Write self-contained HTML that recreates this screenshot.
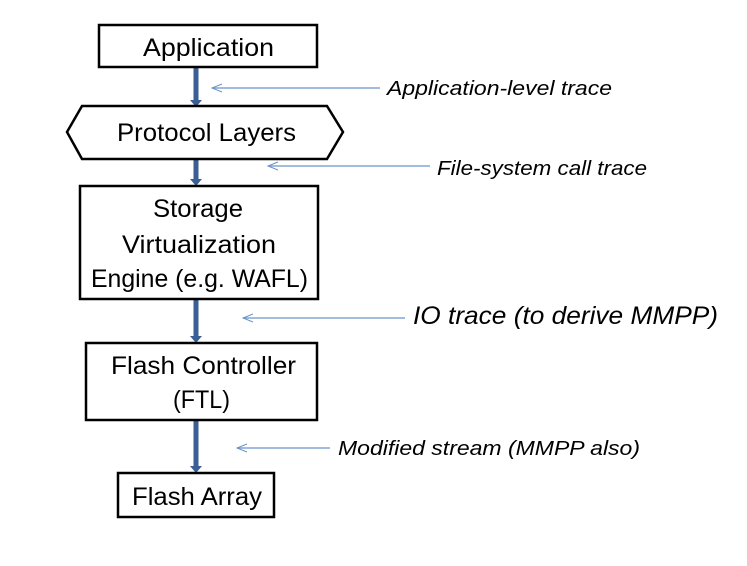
<!DOCTYPE html>
<html><head><meta charset="utf-8"><style>html,body{margin:0;padding:0;background:#fff}</style></head>
<body>
<svg width="747" height="561" xmlns="http://www.w3.org/2000/svg" font-family="Liberation Sans, sans-serif">
<defs>
<marker id="bl" markerWidth="12" markerHeight="10" refX="1" refY="5" orient="auto" markerUnits="userSpaceOnUse">
<path d="M11,1 L1,5 L11,9" fill="none" stroke="#6a94cc" stroke-width="1"/></marker>
</defs>
<g stroke="#3a5f94" stroke-width="5">
<line x1="196" y1="67" x2="196" y2="101"/>
<line x1="196" y1="159" x2="196" y2="180"/>
<line x1="196" y1="299" x2="196" y2="337"/>
<line x1="196" y1="420" x2="196" y2="467"/>
</g>
<g fill="#3a5f94">
<path d="M190,100 L202,100 L196,107 Z"/>
<path d="M190,179 L202,179 L196,186 Z"/>
<path d="M190,336 L202,336 L196,343 Z"/>
<path d="M190,466 L202,466 L196,473 Z"/>
</g>
<g stroke="#6a94cc" stroke-width="1.3" fill="none">
<line x1="212" y1="88" x2="380" y2="88" marker-start="url(#bl)"/>
<line x1="268" y1="166" x2="430" y2="166" marker-start="url(#bl)"/>
<line x1="243" y1="318" x2="405" y2="318" marker-start="url(#bl)"/>
<line x1="237" y1="448" x2="330" y2="448" marker-start="url(#bl)"/>
</g>
<g fill="#fff" stroke="#000" stroke-width="2.5">
<rect x="99" y="25" width="218" height="42"/>
<path d="M67,132 L82,106 L327,106 L343,132 L327,159 L82,159 Z"/>
<rect x="80" y="186" width="238" height="113"/>
<rect x="86" y="343" width="231" height="77"/>
<rect x="118" y="473" width="156" height="44"/>
</g>
<g font-size="25" fill="#000">
<text x="143" y="56" textLength="131" lengthAdjust="spacingAndGlyphs">Application</text>
<text x="117" y="141" textLength="179" lengthAdjust="spacingAndGlyphs">Protocol Layers</text>
<text x="153" y="217" textLength="90" lengthAdjust="spacingAndGlyphs">Storage</text>
<text x="122" y="253" textLength="154" lengthAdjust="spacingAndGlyphs">Virtualization</text>
<text x="91" y="287" textLength="217" lengthAdjust="spacingAndGlyphs">Engine (e.g. WAFL)</text>
<text x="111" y="374" textLength="185" lengthAdjust="spacingAndGlyphs">Flash Controller</text>
<text x="173" y="408" textLength="57" lengthAdjust="spacingAndGlyphs">(FTL)</text>
<text x="132" y="505" textLength="130" lengthAdjust="spacingAndGlyphs">Flash Array</text>
</g>
<g font-style="italic" fill="#000">
<text x="387" y="95" font-size="20" textLength="225" lengthAdjust="spacingAndGlyphs">Application-level trace</text>
<text x="437" y="175" font-size="20" textLength="210" lengthAdjust="spacingAndGlyphs">File-system call trace</text>
<text x="413" y="324" font-size="25" textLength="305" lengthAdjust="spacingAndGlyphs">IO trace (to derive MMPP)</text>
<text x="338" y="455" font-size="20" textLength="302" lengthAdjust="spacingAndGlyphs">Modified stream (MMPP also)</text>
</g>
</svg>
</body></html>
